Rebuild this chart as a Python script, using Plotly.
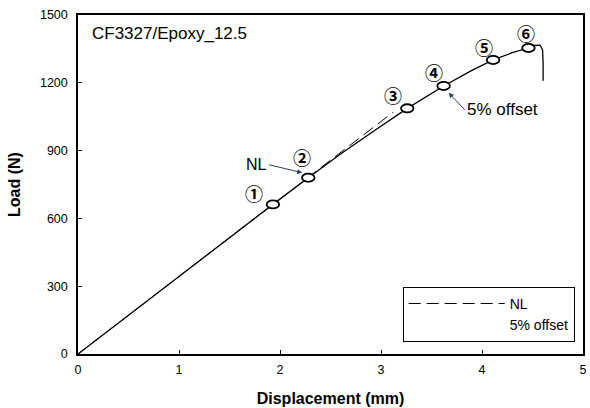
import plotly.graph_objects as go

# Load-displacement curve
disp = [0.0, 0.5, 1.0, 1.5, 1.93, 2.28, 2.6, 2.9, 3.26, 3.62, 3.9, 4.11, 4.3, 4.46, 4.52, 4.575, 4.60, 4.605, 4.605]
load = [0, 172, 344, 514, 662, 780, 885, 978, 1087, 1186, 1255, 1301, 1333, 1354, 1365, 1367, 1345, 1290, 1209]

# NL (linear extension) line
nl_x = [0.0, 3.12]
nl_y = [0, 1070]

# marked points 1-6
pt_x = [1.93, 2.28, 3.26, 3.62, 4.11, 4.46]
pt_y = [662, 780, 1087, 1186, 1301, 1354]
pt_labels = ["①", "②", "③", "④", "⑤", "⑥"]
lab_x = [1.74, 2.22, 3.12, 3.52, 4.015, 4.437]
lab_y = [711, 873, 1146, 1249, 1360, 1419]

x_ticks = [0, 1, 2, 3, 4, 5]
y_ticks = [0, 300, 600, 900, 1200, 1500]

FONT = "Liberation Sans, Arial, sans-serif"

fig = go.Figure()
fig.add_trace(go.Scatter(x=disp, y=load, mode="lines", line=dict(color="black", width=1.3),
                         showlegend=False, hoverinfo="skip"))
fig.add_trace(go.Scatter(x=nl_x, y=nl_y, mode="lines", name="NL",
                         line=dict(color="black", width=1, dash="12px,6px")))
fig.add_trace(go.Scatter(x=[None], y=[None], mode="lines", name="5% offset",
                         line=dict(color="rgba(0,0,0,0)", width=1)))

# ellipse markers (derived from data points)
dx, dy = 0.062, 18
shapes = []
for x, y in zip(pt_x, pt_y):
    shapes.append(dict(type="circle", xref="x", yref="y", x0=x - dx, x1=x + dx, y0=y - dy, y1=y + dy,
                       line=dict(color="black", width=1.8), fillcolor="white", layer="above"))

annotations = []
for lx, ly, t in zip(lab_x, lab_y, pt_labels):
    annotations.append(dict(x=lx, y=ly, xref="x", yref="y", text="<b>" + t + "</b>", showarrow=False,
                            font=dict(family="Noto Sans CJK JP", size=18, color="black")))

annotations.append(dict(x=pt_x[1] - 0.06, y=pt_y[1] + 22, xref="x", yref="y", ax=-33, ay=-8,
                        text="NL", showarrow=True, arrowhead=2, arrowsize=1, arrowwidth=1,
                        xanchor="right", font=dict(family=FONT, size=16, color="black")))
annotations.append(dict(x=pt_x[3] + 0.05, y=pt_y[3] - 30, xref="x", yref="y", ax=16, ay=17,
                        text="5% offset", showarrow=True, arrowhead=2, arrowsize=1, arrowwidth=1,
                        xanchor="left", font=dict(family=FONT, size=17, color="black")))
annotations.append(dict(x=0.023, y=0.944, xref="paper", yref="paper", text="CF3327/Epoxy_12.5",
                        showarrow=False, xanchor="left", yanchor="middle",
                        font=dict(family=FONT, size=17, color="black")))

fig.update_layout(
    width=590, height=408,
    margin=dict(l=78, r=7, t=15, b=54, autoexpand=False),
    paper_bgcolor="white", plot_bgcolor="white",
    font=dict(family=FONT, size=12.5, color="black"),
    shapes=shapes, annotations=annotations,
    legend=dict(x=0.643, y=0.198, xanchor="left", yanchor="top",
                bordercolor="black", borderwidth=1, bgcolor="white",
                font=dict(family=FONT, size=14, color="black"),
                itemwidth=96, tracegroupgap=0),
    xaxis=dict(range=[0, 5], tickvals=x_ticks, ticks="inside", ticklen=4, tickcolor="black",
               showline=True, linecolor="black", linewidth=1.5, mirror=True, showgrid=False,
               zeroline=False, ticklabelstandoff=3, automargin=False,
               title=dict(text="<b>Displacement (mm)</b>", font=dict(size=16), standoff=17)),
    yaxis=dict(range=[0, 1500], tickvals=y_ticks, ticks="inside", ticklen=4, tickcolor="black",
               showline=True, linecolor="black", linewidth=1.5, mirror=True, showgrid=False,
               zeroline=False, ticklabelstandoff=6, automargin=False,
               title=dict(text="<b>Load (N)</b>", font=dict(size=16), standoff=15)),
)

fig.write_html("out.html", config={"displayModeBar": False},
               post_script="document.body.style.margin='0';document.body.style.overflow='hidden';")
